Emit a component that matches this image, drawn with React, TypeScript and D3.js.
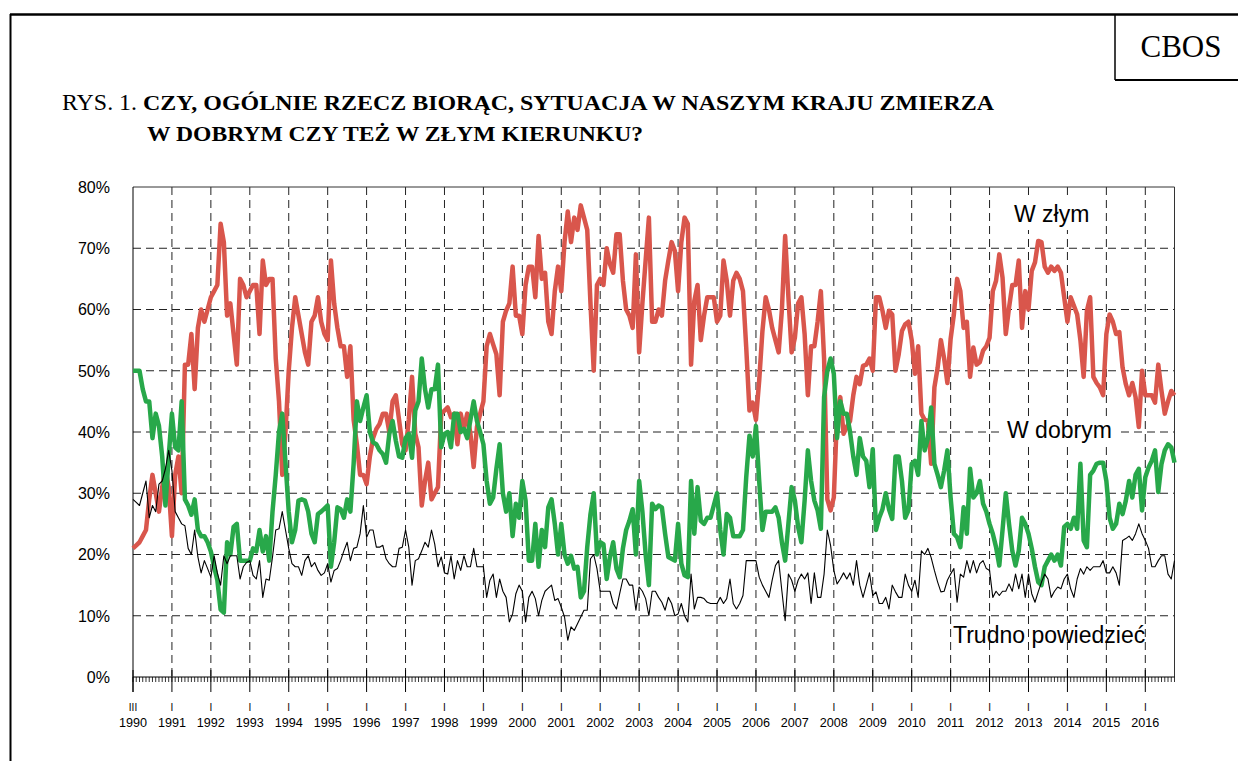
import React from "react";
import * as d3 from "d3";

// monthly surveys, first one III 1990
const years = d3.range(1990, 2017);

const wZlym = [
  21, 21.5, 22, 23, 24, 29, 33, 30, 27, 31, 34, 31,
  23, 33, 36, 30, 51, 51, 56, 47, 57, 60, 58, 60,
  62, 63, 64, 74, 71, 59, 61, 56, 51, 65, 64, 62,
  63, 64, 64, 56, 68, 64, 65, 65, 52, 45, 33, 40,
  50, 57, 62, 59, 56, 53, 51, 58, 59, 62, 58, 56,
  55, 68, 61, 57, 54, 54, 49, 54, 42, 38, 33, 33,
  31.5, 36, 39, 40.5, 41.3, 43, 43, 40, 45, 46, 42, 38,
  37, 42, 49, 39.7, 37.5, 28, 32, 35, 29, 30, 31, 43,
  43.5, 44, 42.4, 43, 38, 43, 40.5, 43, 39.7, 34.3, 40.8, 43,
  45, 54, 56, 54.3, 52.7, 46, 58, 59.8, 61, 67, 59, 59,
  56, 64, 67, 67, 62, 72, 65, 66, 58, 56, 63, 67,
  63, 71, 76, 71, 75, 73, 77, 75, 73, 61, 50, 64,
  65, 64, 70, 67.4, 66, 72.3, 72.3, 64.7, 60, 59, 57, 69,
  53, 61, 68, 75, 58, 58, 60, 59, 64.7, 68, 71, 69.6,
  63, 71, 75, 74, 51, 61.4, 64, 55, 59, 62, 62, 62,
  58, 59, 68, 64.7, 59, 64.7, 66, 65, 63, 53.8, 43.5, 44.8,
  42, 48.4, 56.5, 62, 60, 57, 55, 53, 60, 72, 62, 53,
  55.4, 61, 62, 56, 46, 54, 54, 58, 63, 52, 29, 27.2,
  29.3, 43, 45.7, 39.7, 40.8, 41.8, 46, 49, 47.8, 50.8, 51, 52,
  50, 62, 62, 59.8, 57, 59.8, 59.2, 50, 52.7, 56.5, 57.6, 58,
  55, 49.5, 54, 43, 42, 41.8, 34.8, 47.3, 50.5, 55, 52, 48,
  55.2, 59.2, 65, 63, 57, 58, 49, 53.8, 51, 51.4, 53.3, 54,
  55.4, 63, 64.7, 69, 65.2, 56, 60.3, 64, 64, 68, 57, 63,
  60, 66.3, 67.7, 71.2, 71, 67, 66, 67, 66.3, 67, 66, 62,
  58, 62, 60.6, 59.2, 55, 49, 59.8, 62, 49, 48, 47.3, 46,
  56, 59.2, 58, 56, 56.3, 50.5, 47.8, 46, 48, 45.7, 40.8, 50,
  46, 46, 46, 44.8, 51, 46.7, 43, 45, 46.7, 46,
];

const wDobrym = [
  50, 50, 50, 47, 45, 45, 39, 43, 41, 36, 28, 36,
  43, 37.5, 37, 45, 29, 28, 26.5, 29, 24, 23, 23, 22,
  20.5, 18, 15.8, 11, 10.5, 22, 20, 24.5, 25, 19, 19, 19,
  19, 21, 20.5, 24, 20.5, 23, 19, 27, 33, 40, 43, 35,
  27, 22, 24, 28.8, 29, 28.8, 27, 23.4, 22, 26.6, 27, 27.5,
  28, 18, 22, 27.7, 27.4, 26, 29, 27, 34.8, 45, 41.8, 44,
  46, 40, 38.3, 38, 37, 36.4, 35, 39.7, 41.8, 38.6, 36, 35.8,
  39, 39.7, 35.8, 43.5, 45, 52, 47, 44, 47, 47, 51, 37.5,
  39.7, 40, 37.5, 43, 43, 40, 40.5, 39, 42, 45, 41.8, 40,
  38, 32, 28.3, 29.3, 34, 38, 30, 27, 30, 23, 28.3, 26,
  32, 28.8, 19, 19, 25, 18, 24, 21.2, 27.7, 29, 25, 20,
  25, 20, 18.5, 19.8, 17.7, 18, 13, 14, 21.2, 26.6, 30, 20,
  22, 21.7, 16, 19.6, 22, 17.7, 16.3, 21, 24, 25.5, 27.4, 20,
  32, 27, 20, 15, 28.3, 27.4, 28, 27.7, 23.4, 19.6, 19.3, 19,
  25, 18.5, 16.6, 16.3, 32, 23.4, 31, 25.5, 25, 26, 26, 28,
  30, 24, 20, 26.6, 26, 23, 23, 23, 24, 32.6, 39.4, 36,
  41, 32, 24, 27, 27, 27, 27.7, 26, 22, 19, 25, 31,
  28.8, 24.5, 22, 28.8, 37, 32, 28.8, 27.2, 24.2, 45.7, 50, 52,
  49.5, 39, 45, 43, 43, 40, 36, 33, 39, 36, 35.3, 31,
  37.2, 24, 26, 27.4, 30, 27.4, 25.8, 36, 36, 32, 26, 27.2,
  34.8, 35.3, 33, 41.8, 37, 39, 44, 34.8, 33, 31, 33.7, 37,
  29.3, 23.4, 22.8, 21.2, 27.7, 23.4, 34, 29.3, 30, 32, 28.3, 27,
  25, 23.4, 21.2, 18.2, 24, 30, 25, 20.6, 18.2, 20.6, 26, 25,
  23.4, 21, 18, 15.5, 15, 18, 19, 20, 19, 20, 18.2, 24.5,
  25, 24.2, 26, 24.2, 34.8, 22.3, 21.2, 33, 33.7, 34.8, 35, 35,
  32, 26, 24.2, 25, 28.3, 26.6, 28.8, 32, 29.3, 33, 34, 27.2,
  32.6, 34.2, 35.3, 37, 30.2, 34.8, 37, 38, 37.5, 35,
];

const trudno = [
  29, 28.5, 28, 30, 32, 26, 28, 27, 31.5, 32, 34, 37,
  33.7, 27, 26, 25, 24.7, 21, 20, 24, 19.6, 17, 19, 17.7,
  16.3, 19.8, 17, 15, 19.8, 18.5, 19.8, 19.8, 19.8, 16, 18, 18.7,
  19, 16.6, 16, 19, 13, 16, 15.8, 19.6, 24, 24.2, 27, 24,
  21, 18.5, 18, 18, 16.6, 19, 19.8, 18, 18.7, 17.4, 16.6, 17,
  18.5, 15.5, 17.4, 17.7, 19, 20.6, 22, 19, 21, 21.2, 23.4, 28,
  22.8, 24, 24, 21.2, 21.2, 21.5, 19.3, 18.5, 18, 18, 21, 21.2,
  24, 21.2, 15, 19, 19.3, 20.6, 22, 21.2, 24, 21.7, 18, 19.6,
  17, 16.8, 19.8, 16, 19, 17.4, 19.8, 18, 18, 21, 18, 18,
  18, 13, 15.8, 16.8, 13, 16, 14, 13, 9, 10.3, 13.6, 15,
  14, 9, 13, 14, 12.8, 10, 12.5, 14, 14.5, 15, 12.5, 12.8,
  11.4, 9.8, 6, 8.2, 7.6, 8.7, 9.8, 10.9, 10.9, 19.3, 20, 17.7,
  14, 14, 14, 14, 12, 11.1, 13.6, 16, 16, 15, 15, 10.9,
  14.7, 14, 12.8, 10, 14, 14, 13, 12.2, 10.9, 13, 12, 10,
  10.3, 12, 10, 9, 16.8, 11.1, 13, 13, 12.8, 12.2, 12, 12,
  12, 13, 12, 12.8, 16, 12, 11.1, 12, 13.3, 19, 19, 19,
  19, 16.3, 15, 14, 13, 15.8, 18.2, 19, 14, 9.2, 16.8, 15.8,
  14, 15.8, 16.8, 16, 17, 12, 17, 13, 13, 16.8, 24, 21.5,
  17.4, 15.2, 16, 17, 16, 17, 15, 19, 15, 13, 15, 17,
  13.3, 13.9, 12, 12, 13, 11.1, 15, 13.9, 13, 13, 16.8, 15,
  14, 15.8, 13, 20.6, 20, 21, 19.5, 17.4, 15.5, 13.9, 14, 15.8,
  16.8, 17.7, 12.2, 16.8, 16.3, 19, 17, 19, 17, 18.5, 19, 17.7,
  17.4, 13, 14, 13.3, 14, 14, 15.2, 14, 16.8, 14.4, 16.8, 13,
  16.8, 13.6, 12.2, 13.9, 15.5, 16.8, 16, 13, 14, 14.7, 14.4, 16,
  16.8, 14.4, 13, 16, 17.7, 16.8, 18, 17.4, 18, 18, 18, 19,
  17, 17, 18, 17, 15, 22.3, 22.6, 23, 22.3, 23.4, 25, 23.4,
  22.3, 21, 18, 18, 19, 19.8, 19.8, 16.8, 16, 19,
];

const yTicks = [0, 10, 20, 30, 40, 50, 60, 70, 80];

const W = 1238;
const H = 761;
const m = { left: 133, right: 1174.5, top: 187, bottom: 677 };

const App = () => {
  const n = wZlym.length;
  const x = d3.scaleLinear().domain([0, n - 1]).range([m.left, m.right]);
  const y = d3.scaleLinear().domain([0, 80]).range([m.bottom, m.top]);

  const line = d3
    .line<number>()
    .x((d, i) => x(i))
    .y((d) => y(d));

  const yearIdx = years.map((yr, k) => k * 12);
  const sans = "Arial, 'Liberation Sans', sans-serif";
  const serif = "'Times New Roman', 'Liberation Serif', serif";

  return (
    <svg
      width={W}
      height={H}
      style={{ position: "absolute", left: 0, top: 0, background: "#fff" }}
    >
      <rect width={W} height={H} fill="#fff" />

      {/* page frame */}
      <line x1={10} x2={W} y1={14.5} y2={14.5} stroke="#000" strokeWidth={2.5} />
      <line x1={10.5} x2={10.5} y1={14} y2={H} stroke="#000" strokeWidth={2} />
      <line x1={1115} x2={1115} y1={14} y2={80} stroke="#000" strokeWidth={1.5} />
      <line x1={1115} x2={W} y1={80} y2={80} stroke="#000" strokeWidth={2} />
      <text x={1181} y={57} fontFamily={serif} fontSize={31} textAnchor="middle">
        CBOS
      </text>

      {/* title */}
      <text
        x={62}
        y={110}
        fontFamily={serif}
        fontSize={22.5}
        textLength={75}
        lengthAdjust="spacingAndGlyphs"
      >
        RYS. 1.
      </text>
      <text
        x={143}
        y={110}
        fontFamily={serif}
        fontSize={22}
        fontWeight="bold"
        textLength={851}
        lengthAdjust="spacingAndGlyphs"
      >
        CZY, OGÓLNIE RZECZ BIORĄC, SYTUACJA W NASZYM KRAJU ZMIERZA
      </text>
      <text
        x={147}
        y={141}
        fontFamily={serif}
        fontSize={22}
        fontWeight="bold"
        textLength={496}
        lengthAdjust="spacingAndGlyphs"
      >
        W DOBRYM CZY TEŻ W ZŁYM KIERUNKU?
      </text>

      {/* grid */}
      {yTicks
        .filter((t) => t > 0 && t < 80)
        .map((t) => (
          <line
            key={"h" + t}
            x1={m.left}
            x2={m.right}
            y1={y(t)}
            y2={y(t)}
            stroke="#222"
            strokeDasharray="8,5"
          />
        ))}
      {yearIdx.slice(1).map((i) => (
        <line
          key={"v" + i}
          x1={x(i)}
          x2={x(i)}
          y1={m.top}
          y2={m.bottom}
          stroke="#222"
          strokeDasharray="8,5"
        />
      ))}

      {/* frame of plot */}
      <line x1={m.left} x2={m.right} y1={m.top} y2={m.top} stroke="#333" strokeWidth={1} />
      <line x1={m.right} x2={m.right} y1={m.top} y2={m.bottom} stroke="#333" strokeWidth={1} />
      <line x1={m.left} x2={m.left} y1={m.top} y2={692} stroke="#000" strokeWidth={1} />
      <line x1={m.left} x2={m.right} y1={m.bottom} y2={m.bottom} stroke="#000" strokeWidth={1} />

      {/* month ticks */}
      {d3.range(0, n).map((i) => (
        <line
          key={"mt" + i}
          x1={x(i)}
          x2={x(i)}
          y1={m.bottom}
          y2={m.bottom + 5}
          stroke="#000"
          strokeWidth={0.8}
        />
      ))}
      {yearIdx.map((i) => (
        <line
          key={"yt" + i}
          x1={x(i)}
          x2={x(i)}
          y1={m.bottom - 7}
          y2={692}
          stroke="#000"
          strokeWidth={1}
        />
      ))}

      {/* y labels */}
      {yTicks.map((t) => (
        <text
          key={"yl" + t}
          x={110}
          y={y(t)}
          dy="0.36em"
          textAnchor="end"
          fontFamily={sans}
          fontSize={16}
        >
          {t}%
        </text>
      ))}

      {/* x labels */}
      {years.map((yr, k) => (
        <g key={"xl" + yr}>
          <text
            x={x(k * 12)}
            y={711}
            textAnchor="middle"
            fontFamily={sans}
            fontSize={10}
          >
            {k === 0 ? "III" : "I"}
          </text>
          <text
            x={x(k * 12)}
            y={727}
            textAnchor="middle"
            fontFamily={sans}
            fontSize={12.6}
          >
            {yr}
          </text>
        </g>
      ))}

      {/* series labels */}
      <rect x={1004} y={418} width={112} height={24} fill="#fff" />
      <rect x={1008} y={200} width={86} height={30} fill="#fff" />
      <text x={1014} y={222} fontFamily={sans} fontSize={23}>
        W złym
      </text>
      <text x={1007} y={438} fontFamily={sans} fontSize={23}>
        W dobrym
      </text>
      <text x={953} y={643} fontFamily={sans} fontSize={23}>
        Trudno powiedzieć
      </text>

      {/* series */}
      <path
        d={line(wZlym) || ""}
        fill="none"
        stroke="#d9564c"
        strokeWidth={4.5}
        strokeLinejoin="round"
      />
      <path
        d={line(wDobrym) || ""}
        fill="none"
        stroke="#28a84a"
        strokeWidth={4.5}
        strokeLinejoin="round"
      />
      <path
        d={line(trudno) || ""}
        fill="none"
        stroke="#000"
        strokeWidth={1.1}
        strokeLinejoin="round"
      />
    </svg>
  );
};

export default App;
